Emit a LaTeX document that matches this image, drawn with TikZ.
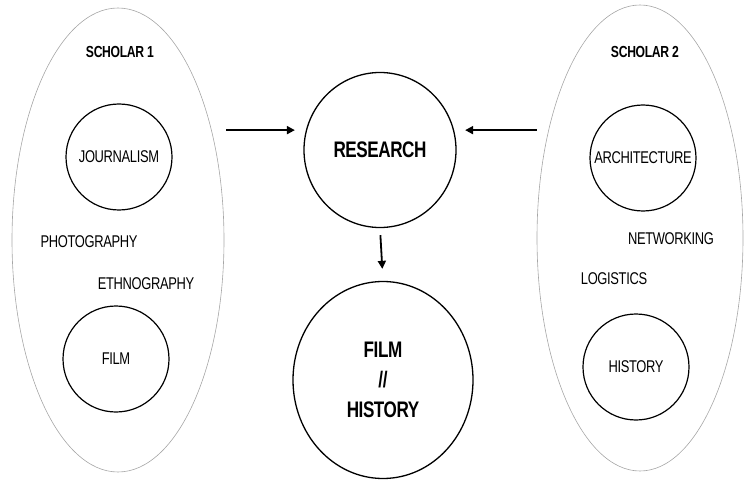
\documentclass[tikz,border=0pt]{standalone}
\usepackage{fontspec}
\setmainfont{Liberation Sans}
\newfontfamily\narrow[FakeStretch=0.76,LetterSpace=-2]{Liberation Sans}
\usetikzlibrary{shapes.geometric,arrows.meta}
\begin{document}
\begin{tikzpicture}[x=1pt,y=-1pt,
  scholar/.style={ellipse,draw=black!35,line width=0.6pt,inner sep=0pt},
  topic/.style={circle,draw,line width=1.2pt,inner sep=0pt,minimum size=106pt,font=\narrow\fontsize{17}{19}\selectfont},
  hub/.style={ellipse,draw,line width=1.3pt,inner sep=0pt,font=\narrow\bfseries\fontsize{22.5}{30}\selectfont,align=center},
  lbl/.style={font=\narrow\fontsize{17}{19}\selectfont,inner sep=0pt},
  head/.style={font=\narrow\bfseries\fontsize{16}{18}\selectfont,inner sep=0pt},
  arr/.style={line width=1.8pt,-{Triangle[length=8pt,width=8pt]}}]
\useasboundingbox (0,0) rectangle (744,481);
\node[scholar,minimum width=212pt,minimum height=464pt] (s1) at (118,240) {};
\node[scholar,minimum width=206pt,minimum height=466pt] (s2) at (640,238) {};
\node[head] (h1) at (120,52) {SCHOLAR 1};
\node[head] (h2) at (645,52) {SCHOLAR 2};
\node[topic] (jo) at (119,157) {JOURNALISM};
\node[topic] (fi) at (116,359) {FILM};
\node[topic] (ar) at (643,158) {ARCHITECTURE};
\node[topic] (hi) at (636,367) {HISTORY};
\node[lbl] (ph) at (89,242) {PHOTOGRAPHY};
\node[lbl] (et) at (146,284) {ETHNOGRAPHY};
\node[lbl] (ne) at (671,239) {NETWORKING};
\node[lbl] (lo) at (614,279) {LOGISTICS};
\node[hub,minimum width=152pt,minimum height=155pt] (res) at (380,150) {RESEARCH};
\node[hub,minimum width=180pt,minimum height=197pt] (fh) at (383,380) {FILM\\//\\HISTORY};
\draw[arr,shorten <=2pt,shorten >=11pt] (res.165 -| s1.east) -- (res.165);
\draw[arr,shorten <=0pt,shorten >=11pt] (res.15 -| s2.west) -- (res.15);
\draw[arr,shorten <=7pt,shorten >=12pt] (res.south) -- (fh.north);
\end{tikzpicture}
\end{document}
